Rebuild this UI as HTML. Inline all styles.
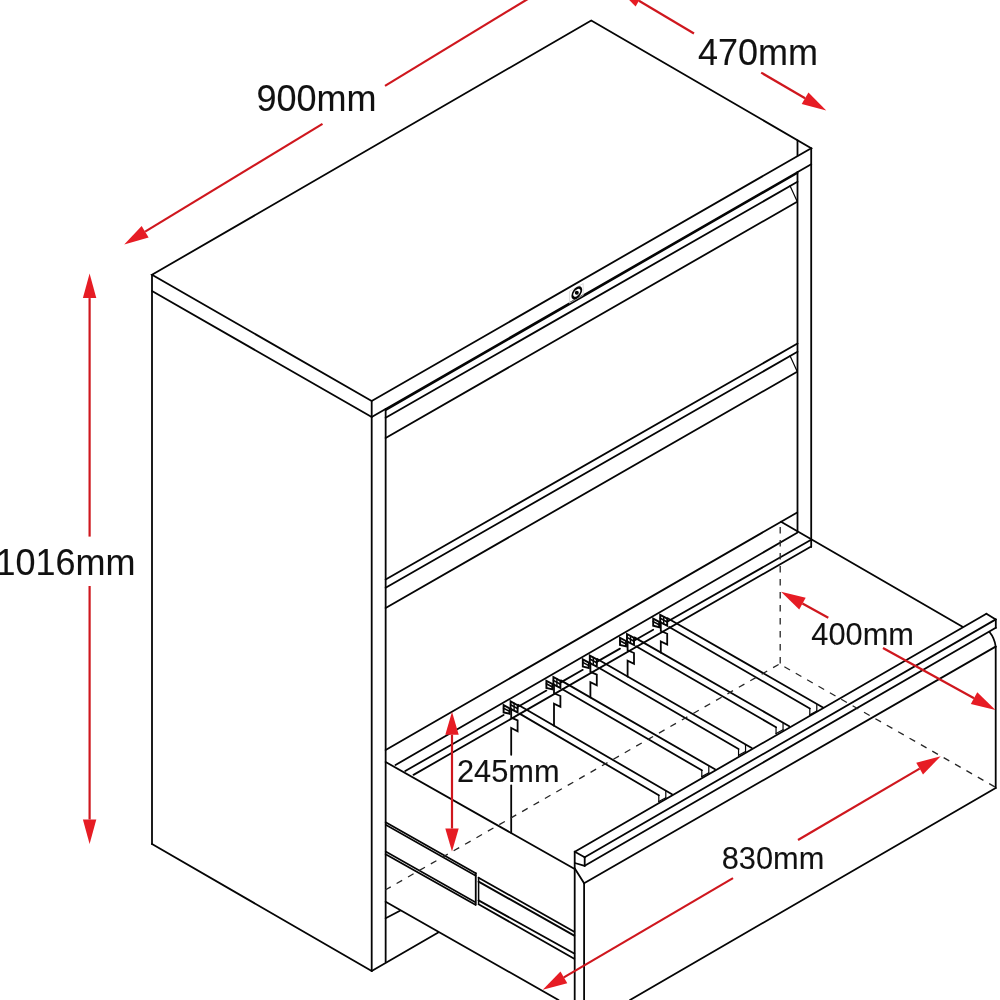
<!DOCTYPE html>
<html><head><meta charset="utf-8"><title>Cabinet dimensions</title>
<style>
html,body{margin:0;padding:0;background:#fff;}
body{width:1000px;height:1000px;overflow:hidden;}
svg{display:block;will-change:transform;}
text{font-family:"Liberation Sans",sans-serif;fill:#111;stroke:#111;stroke-width:0.1px;}
</style></head><body>
<svg width="1000" height="1000" viewBox="0 0 1000 1000" stroke-linecap="round">
<rect width="1000" height="1000" fill="#fff"/>
<polygon points="152.00,274.80 591.25,20.50 811.20,148.20 371.70,401.00" fill="none" stroke="#050505" stroke-width="1.8" stroke-linejoin="miter" />
<line x1="152.00" y1="274.80" x2="152.00" y2="844.00" stroke="#050505" stroke-width="1.8" />
<line x1="152.00" y1="291.00" x2="371.70" y2="417.00" stroke="#050505" stroke-width="1.8" />
<line x1="371.70" y1="401.00" x2="371.70" y2="971.00" stroke="#050505" stroke-width="1.8" />
<line x1="371.70" y1="417.00" x2="811.20" y2="164.20" stroke="#050505" stroke-width="1.8" />
<line x1="152.00" y1="844.00" x2="371.70" y2="971.00" stroke="#050505" stroke-width="1.8" />
<line x1="385.65" y1="409.00" x2="385.65" y2="962.00" stroke="#050505" stroke-width="1.8" />
<line x1="797.50" y1="140.50" x2="797.50" y2="155.40" stroke="#050505" stroke-width="1.8" />
<line x1="797.50" y1="172.00" x2="797.50" y2="531.50" stroke="#050505" stroke-width="1.8" />
<line x1="811.20" y1="148.20" x2="811.20" y2="547.00" stroke="#050505" stroke-width="1.8" />
<line x1="371.70" y1="971.00" x2="438.25" y2="932.50" stroke="#050505" stroke-width="1.8" />
<line x1="385.65" y1="918.25" x2="400.00" y2="910.75" stroke="#050505" stroke-width="1.8" />
<line x1="385.65" y1="417.75" x2="797.50" y2="181.75" stroke="#050505" stroke-width="1.8" />
<line x1="385.65" y1="438.00" x2="796.75" y2="202.00" stroke="#050505" stroke-width="1.8" />
<line x1="790.00" y1="185.80" x2="796.75" y2="200.50" stroke="#050505" stroke-width="1.2" />
<line x1="385.65" y1="579.50" x2="797.50" y2="343.50" stroke="#050505" stroke-width="1.8" />
<line x1="385.65" y1="587.75" x2="797.50" y2="351.75" stroke="#050505" stroke-width="1.8" />
<line x1="385.65" y1="608.00" x2="796.75" y2="372.00" stroke="#050505" stroke-width="1.8" />
<line x1="790.00" y1="355.80" x2="796.75" y2="370.50" stroke="#050505" stroke-width="1.2" />
<line x1="385.65" y1="410.10" x2="797.50" y2="173.00" stroke="#050505" stroke-width="1.8" />
<polygon points="569.80,291.20 583.20,283.50 583.20,295.20 569.80,302.90" fill="none" stroke="#d4d4d4" stroke-width="0.8" stroke-linejoin="miter" />
<g transform="translate(576.8,292.8) rotate(-30)"><ellipse cx="0" cy="0" rx="5.2" ry="4.0" transform="skewX(-30)" fill="#fff" stroke="#050505" stroke-width="2.1"/></g>
<circle cx="576.8" cy="292.8" r="2" fill="#050505"/>
<line x1="385.65" y1="750.00" x2="797.20" y2="512.50" stroke="#050505" stroke-width="1.8" />
<line x1="395.50" y1="765.00" x2="797.20" y2="532.75" stroke="#050505" stroke-width="1.8" />
<line x1="405.25" y1="771.00" x2="503.60" y2="714.96" stroke="#050505" stroke-width="1.8" />
<line x1="518.00" y1="706.76" x2="546.40" y2="690.58" stroke="#050505" stroke-width="1.8" />
<line x1="560.80" y1="682.37" x2="582.80" y2="669.84" stroke="#050505" stroke-width="1.8" />
<line x1="597.20" y1="661.64" x2="620.00" y2="648.65" stroke="#050505" stroke-width="1.8" />
<line x1="634.40" y1="640.44" x2="653.20" y2="629.73" stroke="#050505" stroke-width="1.8" />
<line x1="667.60" y1="621.53" x2="810.25" y2="540.25" stroke="#050505" stroke-width="1.8" />
<line x1="413.50" y1="774.90" x2="810.25" y2="547.00" stroke="#050505" stroke-width="1.8" />
<line x1="781.00" y1="521.80" x2="962.50" y2="626.75" stroke="#050505" stroke-width="1.8" />
<line x1="385.65" y1="762.00" x2="574.70" y2="869.00" stroke="#050505" stroke-width="1.8" />
<line x1="385.65" y1="901.75" x2="558.50" y2="1000.00" stroke="#050505" stroke-width="1.8" />
<line x1="385.65" y1="822.25" x2="475.75" y2="873.25" stroke="#050505" stroke-width="1.8" />
<line x1="385.65" y1="824.80" x2="475.75" y2="875.80" stroke="#050505" stroke-width="1.6" />
<line x1="385.65" y1="851.50" x2="475.40" y2="902.20" stroke="#050505" stroke-width="1.6" />
<line x1="385.65" y1="854.20" x2="475.40" y2="904.80" stroke="#050505" stroke-width="1.8" />
<line x1="475.75" y1="873.25" x2="475.75" y2="904.80" stroke="#050505" stroke-width="1.8" />
<line x1="478.60" y1="877.50" x2="478.60" y2="903.60" stroke="#050505" stroke-width="1.5" />
<line x1="478.60" y1="877.70" x2="574.25" y2="931.75" stroke="#050505" stroke-width="1.8" />
<line x1="478.60" y1="881.60" x2="574.25" y2="935.60" stroke="#050505" stroke-width="1.9" />
<line x1="478.60" y1="900.40" x2="574.25" y2="953.50" stroke="#050505" stroke-width="1.9" />
<line x1="478.60" y1="904.20" x2="574.25" y2="958.80" stroke="#050505" stroke-width="1.8" />
<line x1="574.70" y1="851.70" x2="574.70" y2="1000.00" stroke="#050505" stroke-width="1.8" />
<line x1="584.10" y1="883.30" x2="584.10" y2="1000.00" stroke="#050505" stroke-width="1.8" />
<line x1="574.80" y1="851.70" x2="986.40" y2="613.70" stroke="#050505" stroke-width="1.8" />
<line x1="574.80" y1="851.70" x2="584.70" y2="857.25" stroke="#050505" stroke-width="1.8" />
<line x1="986.40" y1="613.70" x2="995.80" y2="619.40" stroke="#050505" stroke-width="1.8" />
<line x1="584.70" y1="857.25" x2="995.80" y2="619.40" stroke="#050505" stroke-width="1.8" />
<line x1="584.70" y1="857.25" x2="584.70" y2="865.80" stroke="#050505" stroke-width="1.8" />
<line x1="995.80" y1="619.40" x2="995.80" y2="627.80" stroke="#050505" stroke-width="1.8" />
<line x1="584.70" y1="865.80" x2="995.80" y2="627.80" stroke="#050505" stroke-width="1.8" />
<line x1="574.80" y1="863.00" x2="584.70" y2="865.80" stroke="#050505" stroke-width="1.8" />
<line x1="574.80" y1="868.50" x2="584.10" y2="883.30" stroke="#050505" stroke-width="1.8" />
<line x1="584.10" y1="883.30" x2="995.60" y2="646.60" stroke="#050505" stroke-width="1.8" />
<path d="M989.5,632 Q994.5,638 995.7,646.6" fill="none" stroke="#050505" stroke-width="1.8"/>
<line x1="995.70" y1="646.60" x2="995.70" y2="788.00" stroke="#050505" stroke-width="1.8" />
<line x1="995.70" y1="788.00" x2="630.00" y2="1000.00" stroke="#050505" stroke-width="1.8" />
<polyline points="511.20,708.80 511.20,717.60 517.60,720.40 517.60,731.20 511.20,728.00 511.20,754.80" fill="none" stroke="#050505" stroke-width="1.8" stroke-linejoin="miter" />
<line x1="511.20" y1="785.50" x2="511.20" y2="832.80" stroke="#050505" stroke-width="1.8" />
<polygon points="510.60,701.40 517.60,705.20 517.60,712.40 510.60,708.80" fill="none" stroke="#050505" stroke-width="1.9" stroke-linejoin="miter" />
<line x1="510.60" y1="704.80" x2="517.60" y2="708.60" stroke="#050505" stroke-width="1.6" />
<line x1="514.10" y1="703.20" x2="514.10" y2="710.60" stroke="#050505" stroke-width="1.4" />
<polygon points="503.60,705.20 509.60,708.40 509.60,713.80 503.60,712.40" fill="none" stroke="#050505" stroke-width="1.9" stroke-linejoin="miter" />
<line x1="503.60" y1="708.20" x2="509.60" y2="711.40" stroke="#050505" stroke-width="1.6" />
<line x1="518.00" y1="704.80" x2="672.00" y2="794.25" stroke="#050505" stroke-width="1.8" />
<line x1="519.60" y1="713.60" x2="658.80" y2="795.25" stroke="#050505" stroke-width="1.8" />
<line x1="658.80" y1="795.25" x2="658.80" y2="801.75" stroke="#050505" stroke-width="1.2" />
<line x1="665.80" y1="791.45" x2="665.80" y2="798.05" stroke="#050505" stroke-width="1.2" />
<line x1="658.80" y1="801.55" x2="665.80" y2="797.75" stroke="#050505" stroke-width="1.2" />
<polyline points="554.00,684.40 554.00,693.20 560.40,696.00 560.40,706.80 554.00,703.60 554.00,725.71" fill="none" stroke="#050505" stroke-width="1.8" stroke-linejoin="miter" />
<polygon points="553.40,677.00 560.40,680.80 560.40,688.00 553.40,684.40" fill="none" stroke="#050505" stroke-width="1.9" stroke-linejoin="miter" />
<line x1="553.40" y1="680.40" x2="560.40" y2="684.20" stroke="#050505" stroke-width="1.6" />
<line x1="556.90" y1="678.80" x2="556.90" y2="686.20" stroke="#050505" stroke-width="1.4" />
<polygon points="546.40,680.80 552.40,684.00 552.40,689.40 546.40,688.00" fill="none" stroke="#050505" stroke-width="1.9" stroke-linejoin="miter" />
<line x1="546.40" y1="683.80" x2="552.40" y2="687.00" stroke="#050505" stroke-width="1.6" />
<line x1="560.80" y1="680.40" x2="715.00" y2="769.30" stroke="#050505" stroke-width="1.8" />
<line x1="562.40" y1="689.20" x2="701.80" y2="770.30" stroke="#050505" stroke-width="1.8" />
<line x1="701.80" y1="770.30" x2="701.80" y2="776.80" stroke="#050505" stroke-width="1.2" />
<line x1="708.80" y1="766.50" x2="708.80" y2="773.10" stroke="#050505" stroke-width="1.2" />
<line x1="701.80" y1="776.60" x2="708.80" y2="772.80" stroke="#050505" stroke-width="1.2" />
<polyline points="590.40,663.00 590.40,671.80 596.80,674.60 596.80,685.40 590.40,682.20 590.40,697.47" fill="none" stroke="#050505" stroke-width="1.8" stroke-linejoin="miter" />
<polygon points="589.80,655.60 596.80,659.40 596.80,666.60 589.80,663.00" fill="none" stroke="#050505" stroke-width="1.9" stroke-linejoin="miter" />
<line x1="589.80" y1="659.00" x2="596.80" y2="662.80" stroke="#050505" stroke-width="1.6" />
<line x1="593.30" y1="657.40" x2="593.30" y2="664.80" stroke="#050505" stroke-width="1.4" />
<polygon points="582.80,659.40 588.80,662.60 588.80,668.00 582.80,666.60" fill="none" stroke="#050505" stroke-width="1.9" stroke-linejoin="miter" />
<line x1="582.80" y1="662.40" x2="588.80" y2="665.60" stroke="#050505" stroke-width="1.6" />
<line x1="597.20" y1="659.00" x2="751.75" y2="748.00" stroke="#050505" stroke-width="1.8" />
<line x1="598.80" y1="667.80" x2="738.55" y2="749.00" stroke="#050505" stroke-width="1.8" />
<line x1="738.55" y1="749.00" x2="738.55" y2="755.50" stroke="#050505" stroke-width="1.2" />
<line x1="745.55" y1="745.20" x2="745.55" y2="751.80" stroke="#050505" stroke-width="1.2" />
<line x1="738.55" y1="755.30" x2="745.55" y2="751.50" stroke="#050505" stroke-width="1.2" />
<polyline points="627.60,641.40 627.60,650.20 634.00,653.00 634.00,663.80 627.60,660.60 627.60,676.51" fill="none" stroke="#050505" stroke-width="1.8" stroke-linejoin="miter" />
<polygon points="627.00,634.00 634.00,637.80 634.00,645.00 627.00,641.40" fill="none" stroke="#050505" stroke-width="1.9" stroke-linejoin="miter" />
<line x1="627.00" y1="637.40" x2="634.00" y2="641.20" stroke="#050505" stroke-width="1.6" />
<line x1="630.50" y1="635.80" x2="630.50" y2="643.20" stroke="#050505" stroke-width="1.4" />
<polygon points="620.00,637.80 626.00,641.00 626.00,646.40 620.00,645.00" fill="none" stroke="#050505" stroke-width="1.9" stroke-linejoin="miter" />
<line x1="620.00" y1="640.80" x2="626.00" y2="644.00" stroke="#050505" stroke-width="1.6" />
<line x1="634.40" y1="637.40" x2="789.25" y2="726.25" stroke="#050505" stroke-width="1.8" />
<line x1="636.00" y1="646.20" x2="776.05" y2="727.25" stroke="#050505" stroke-width="1.8" />
<line x1="776.05" y1="727.25" x2="776.05" y2="733.75" stroke="#050505" stroke-width="1.2" />
<line x1="783.05" y1="723.45" x2="783.05" y2="730.05" stroke="#050505" stroke-width="1.2" />
<line x1="776.05" y1="733.55" x2="783.05" y2="729.75" stroke="#050505" stroke-width="1.2" />
<polyline points="660.80,622.20 660.80,631.00 667.20,633.80 667.20,644.60 660.80,641.40 660.80,652.55" fill="none" stroke="#050505" stroke-width="1.8" stroke-linejoin="miter" />
<polygon points="660.20,614.80 667.20,618.60 667.20,625.80 660.20,622.20" fill="none" stroke="#050505" stroke-width="1.9" stroke-linejoin="miter" />
<line x1="660.20" y1="618.20" x2="667.20" y2="622.00" stroke="#050505" stroke-width="1.6" />
<line x1="663.70" y1="616.60" x2="663.70" y2="624.00" stroke="#050505" stroke-width="1.4" />
<polygon points="653.20,618.60 659.20,621.80 659.20,627.20 653.20,625.80" fill="none" stroke="#050505" stroke-width="1.9" stroke-linejoin="miter" />
<line x1="653.20" y1="621.60" x2="659.20" y2="624.80" stroke="#050505" stroke-width="1.6" />
<line x1="667.60" y1="618.20" x2="823.00" y2="707.50" stroke="#050505" stroke-width="1.8" />
<line x1="669.20" y1="627.00" x2="809.80" y2="708.50" stroke="#050505" stroke-width="1.8" />
<line x1="809.80" y1="708.50" x2="809.80" y2="715.00" stroke="#050505" stroke-width="1.2" />
<line x1="816.80" y1="704.70" x2="816.80" y2="711.30" stroke="#050505" stroke-width="1.2" />
<line x1="809.80" y1="714.80" x2="816.80" y2="711.00" stroke="#050505" stroke-width="1.2" />
<line x1="780.20" y1="663.50" x2="780.20" y2="522.00" stroke="#262626" stroke-width="1.3" stroke-linecap="butt" stroke-dasharray="6.5 6.5"/>
<line x1="385.20" y1="890.05" x2="779.50" y2="664.00" stroke="#262626" stroke-width="1.3" stroke-linecap="butt" stroke-dasharray="6.4 6.75"/>
<line x1="779.50" y1="664.00" x2="995.50" y2="787.25" stroke="#262626" stroke-width="1.3" stroke-linecap="butt" stroke-dasharray="6.5 6.6" stroke-dashoffset="7.5"/>
<polygon points="124.20,244.40 141.65,225.95 148.62,237.40" fill="#e61c24" stroke="none"/>
<line x1="145.13" y1="231.67" x2="322.50" y2="123.83" stroke="#cf171e" stroke-width="2.2" stroke-linecap="butt"/>
<line x1="385.00" y1="85.83" x2="540.00" y2="-8.41" stroke="#cf171e" stroke-width="2.2" stroke-linecap="butt"/>
<polygon points="617.80,-11.60 642.35,-5.07 635.60,6.51" fill="#e61c24" stroke="none"/>
<line x1="638.97" y1="0.72" x2="694.00" y2="33.50" stroke="#cf171e" stroke-width="2.2" stroke-linecap="butt"/>
<polygon points="826.25,110.50 801.70,103.97 808.45,92.39" fill="#e61c24" stroke="none"/>
<line x1="761.20" y1="72.64" x2="805.08" y2="98.18" stroke="#cf171e" stroke-width="2.2" stroke-linecap="butt"/>
<polygon points="89.60,273.60 96.30,298.10 82.90,298.10" fill="#e61c24" stroke="none"/>
<line x1="89.60" y1="298.10" x2="89.60" y2="536.60" stroke="#cf171e" stroke-width="2.2" stroke-linecap="butt"/>
<polygon points="89.60,844.00 82.90,819.50 96.30,819.50" fill="#e61c24" stroke="none"/>
<line x1="89.60" y1="586.00" x2="89.60" y2="819.50" stroke="#cf171e" stroke-width="2.2" stroke-linecap="butt"/>
<polygon points="452.00,711.75 458.70,734.75 445.30,734.75" fill="#e61c24" stroke="none"/>
<polygon points="452.00,851.50 445.30,828.50 458.70,828.50" fill="#e61c24" stroke="none"/>
<line x1="452.00" y1="734.75" x2="452.00" y2="828.50" stroke="#cf171e" stroke-width="2.2" stroke-linecap="butt"/>
<polygon points="781.00,591.70 805.69,597.66 799.22,609.40" fill="#e61c24" stroke="none"/>
<line x1="802.45" y1="603.53" x2="828.30" y2="617.79" stroke="#cf171e" stroke-width="2.2" stroke-linecap="butt"/>
<polygon points="995.50,710.00 970.81,704.04 977.28,692.30" fill="#e61c24" stroke="none"/>
<line x1="883.00" y1="647.96" x2="974.05" y2="698.17" stroke="#cf171e" stroke-width="2.2" stroke-linecap="butt"/>
<polygon points="542.75,989.80 560.49,971.62 567.27,983.18" fill="#e61c24" stroke="none"/>
<line x1="563.88" y1="977.40" x2="733.00" y2="878.12" stroke="#cf171e" stroke-width="2.2" stroke-linecap="butt"/>
<polygon points="940.75,756.20 923.01,774.38 916.23,762.82" fill="#e61c24" stroke="none"/>
<line x1="798.00" y1="839.99" x2="919.62" y2="768.60" stroke="#cf171e" stroke-width="2.2" stroke-linecap="butt"/>
<text x="256.40" y="111.00" font-size="36.9" textLength="120.00" lengthAdjust="spacingAndGlyphs" text-anchor="start">900mm</text>
<text x="697.90" y="64.50" font-size="36.9" textLength="120.00" lengthAdjust="spacingAndGlyphs" text-anchor="start">470mm</text>
<text x="135.50" y="574.75" font-size="36.9" textLength="140.00" lengthAdjust="spacingAndGlyphs" text-anchor="end">1016mm</text>
<text x="457.00" y="781.60" font-size="31.6" textLength="102.60" lengthAdjust="spacingAndGlyphs" text-anchor="start">245mm</text>
<text x="811.30" y="644.75" font-size="31.6" textLength="102.60" lengthAdjust="spacingAndGlyphs" text-anchor="start">400mm</text>
<text x="721.70" y="868.75" font-size="31.6" textLength="102.60" lengthAdjust="spacingAndGlyphs" text-anchor="start">830mm</text>
</svg>
</body></html>
